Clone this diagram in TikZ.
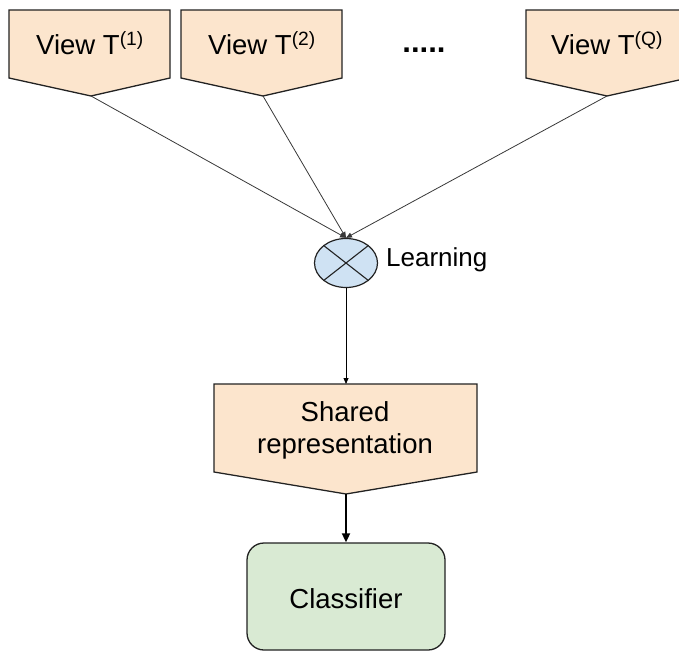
\documentclass[tikz,border=0pt]{standalone}
\usepackage{fontspec}
\setmainfont{Liberation Sans}
\usetikzlibrary{arrows.meta,shapes.geometric}
\definecolor{peach}{HTML}{FCE5CD}
\definecolor{lblue}{HTML}{CFE2F3}
\definecolor{lgreen}{HTML}{D9EAD3}
\definecolor{edge}{HTML}{222222}
\tikzset{
  viewbox/.style={draw=edge, fill=peach, line width=1.3pt, line join=miter},
  lbl/.style={font=\fontsize{27.5}{32}\selectfont, text=black, inner sep=0pt, anchor=base},
  thinarrow/.style={draw=edge!90, line width=0.8pt, -{Triangle[length=6pt,width=5pt]}},
  thickarrow/.style={draw=black, line width=1.8pt, -{Triangle[length=9pt,width=8pt]}},
  mixer/.style={ellipse, draw=edge, fill=lblue, line width=1.2pt, minimum width=63pt, minimum height=49pt, inner sep=0pt},
  classbox/.style={draw=edge, fill=lgreen, line width=1.3pt, rounded corners=17pt, minimum width=198pt, minimum height=107pt, inner sep=0pt}
}
\begin{document}
\begin{tikzpicture}[x=1pt,y=-1pt]
\useasboundingbox (0,0) rectangle (679,652);
\clip (0,0) rectangle (679,652);
% view boxes
\draw[viewbox] (9,10) -- (170,10) -- (170,78) -- (91,96) -- (9,78) -- cycle;
\draw[viewbox] (181,10) -- (342,10) -- (342,78) -- (263,96) -- (181,78) -- cycle;
\draw[viewbox] (526,10) -- (688,10) -- (688,78) -- (607,96) -- (526,78) -- cycle;
\coordinate (v1tip) at (91,96);
\coordinate (v2tip) at (263,96);
\coordinate (vqtip) at (607,96);
\node[lbl] (v1) at (90,55) {View T\textsuperscript{(1)}};
\node[lbl] (v2) at (262,55) {View T\textsuperscript{(2)}};
\node[lbl] (vq) at (607,55) {View T\textsuperscript{(Q)}};
\node[lbl, font=\fontsize{31}{34}\bfseries] (dots) at (424,53) {.....};
% learning
\node[mixer] (mix) at (346,263) {};
\draw[edge, line width=1.1pt] (mix.north west) -- (mix.south east) (mix.north east) -- (mix.south west);
\node[lbl, anchor=base west, font=\fontsize{26}{30}\selectfont] (learn) at (386,266) {Learning};
% shared representation
\draw[viewbox] (214,384) -- (477,384) -- (477,472) -- (346,494) -- (214,472) -- cycle;
\coordinate (shtop) at (346,384);
\coordinate (shtip) at (346,494);
\node[lbl, align=center, anchor=center] (shared) at (345,430) {Shared\\representation};
% classifier
\node[classbox] (cls) at (346,596.5) {};
\node[lbl] (clslbl) at (346,608) {Classifier};
% connectors
\draw[thinarrow] (v1tip) -- (mix.north);
\draw[thinarrow] (v2tip) -- (mix.north);
\draw[thinarrow] (vqtip) -- (mix.north);
\draw[thinarrow, draw=black] (mix.south) -- (shtop);
\draw[thickarrow] (shtip) -- (cls.north);
\end{tikzpicture}
\end{document}
